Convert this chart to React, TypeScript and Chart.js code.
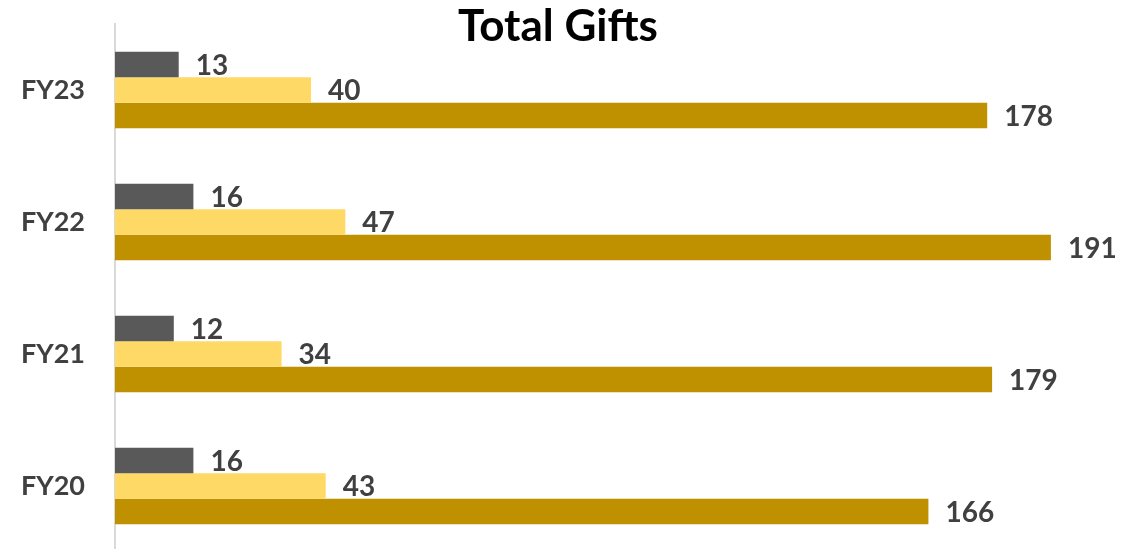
import React, { useEffect, useRef } from "react";
import { Chart, registerables } from "chart.js";

Chart.register(...registerables);

const categories = ["FY23", "FY22", "FY21", "FY20"];
const seriesDark = [13, 16, 12, 16];
const seriesLight = [40, 47, 34, 43];
const seriesGold = [178, 191, 179, 166];
const chartTitle = "Total Gifts";

const FONT = "Lato, 'Open Sans', sans-serif";

const valueLabels = {
  id: "valueLabels",
  afterDatasetsDraw(chart: any) {
    const ctx = chart.ctx;
    ctx.save();
    ctx.font = `bold 28px ${FONT}`;
    ctx.fillStyle = "#404040";
    ctx.textAlign = "left";
    ctx.textBaseline = "middle";
    chart.data.datasets.forEach((ds: any, i: number) => {
      const meta = chart.getDatasetMeta(i);
      meta.data.forEach((el: any, j: number) => {
        ctx.fillText(String(ds.data[j]), el.x + 17, el.y + 1);
      });
    });
    ctx.restore();
  },
};

const titlePlugin = {
  id: "titleOverlay",
  afterDraw(chart: any) {
    const ctx = chart.ctx;
    ctx.save();
    ctx.font = `bold 44px ${FONT}`;
    ctx.fillStyle = "#000000";
    ctx.textAlign = "center";
    ctx.textBaseline = "middle";
    ctx.fillText(chartTitle, 558, 27);
    ctx.restore();
  },
};

export default function App() {
  const ref = useRef<HTMLCanvasElement | null>(null);
  useEffect(() => {
    if (!ref.current) return;
    const chart = new Chart(ref.current, {
      type: "bar",
      data: {
        labels: categories,
        datasets: [
          { label: "A", data: seriesDark, backgroundColor: "#595959" },
          { label: "B", data: seriesLight, backgroundColor: "#FFD966" },
          { label: "C", data: seriesGold, backgroundColor: "#BF9000" },
        ],
      },
      options: {
        indexAxis: "y",
        animation: false,
        responsive: false,
        events: [],
        datasets: { bar: { categoryPercentage: 0.58, barPercentage: 1 } },
        layout: { padding: { top: 24, bottom: 0, left: 0, right: 0 } },
        plugins: {
          legend: { display: false },
          tooltip: { enabled: false },
          title: { display: false },
        },
        scales: {
          x: { display: false, min: 0, max: 210 },
          y: {
            afterFit: (scale: any) => {
              scale.width = 115;
              scale.paddingTop = 0;
              scale.paddingBottom = 0;
            },
            grid: { display: false, drawTicks: false },
            border: { display: true, color: "#d9d9d9", width: 2 },
            ticks: {
              padding: 30,
              color: "#404040",
              font: { family: FONT, size: 27, weight: "bold" },
            },
          },
        },
      },
      plugins: [valueLabels, titlePlugin],
    });
    return () => chart.destroy();
  }, []);
  return (
    <div style={{ position: "fixed", left: 0, top: 0, width: 1144, height: 552, background: "#fff" }}>
      <canvas ref={ref} width={1144} height={552} style={{ width: 1144, height: 552, display: "block" }} />
    </div>
  );
}
